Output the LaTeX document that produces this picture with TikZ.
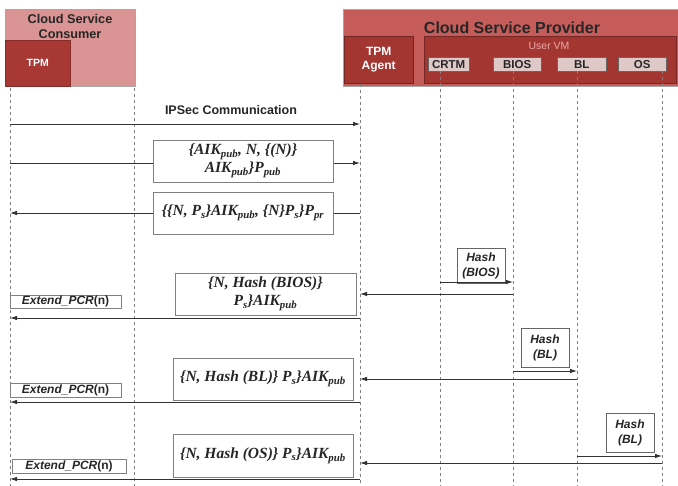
\documentclass[tikz,border=0pt]{standalone}
\usepackage{fontspec}
\setmainfont{Liberation Serif}
\setsansfont{Liberation Sans}
\usetikzlibrary{arrows.meta, positioning, calc}

\definecolor{consfill}{RGB}{218,148,147}
\definecolor{tpmfill}{RGB}{168,56,52}
\definecolor{provfill}{RGB}{198,92,90}
\definecolor{vmfill}{RGB}{164,54,50}
\definecolor{compfill}{RGB}{222,200,200}
\definecolor{vmtext}{RGB}{232,170,168}

\begin{document}
\begin{tikzpicture}[x=1pt, y=-1pt,
        hdr_box/.style={draw=gray!70, inner sep=0pt, anchor=north west},
        comp_box/.style={draw=black!60, fill=compfill, inner sep=0pt, anchor=north west, minimum height=14pt,
            font=\sffamily\bfseries\fontsize{11.5}{12}\selectfont, text=black!85},
        lifeline/.style={draw=gray, dashed, line width=0.7pt},
        msg/.style={draw=black!80, line width=0.8pt, -{Latex[length=7pt,width=4.5pt]}},
        msg_box/.style={draw=gray, fill=white, line width=0.9pt, inner sep=0pt, align=center,
            minimum width=180pt, minimum height=42pt,
            font=\bfseries\itshape\fontsize{15.5}{18}\selectfont, text=black!85},
        hash_box/.style={draw=gray!80!black, fill=white, line width=0.9pt, inner sep=0pt, align=center,
            minimum width=48pt, font=\sffamily\bfseries\itshape\fontsize{12}{15}\selectfont, text=black!85},
        pcr_box/.style={draw=gray, fill=white, line width=0.9pt, inner sep=0pt,
            minimum width=111pt, minimum height=13pt, font=\sffamily\bfseries\fontsize{12}{13}\selectfont, text=black!85}]

        \useasboundingbox (0,0) rectangle (678,486);

        % Consumer side
        \node[hdr_box, fill=consfill, minimum width=130pt, minimum height=77pt] (consumer) at (5,9) {};
        \node[font=\sffamily\bfseries\fontsize{12.7}{15}\selectfont, align=center, text=black!85]
            (consumer_title) at (70,26) {Cloud Service\\Consumer};
        \node[hdr_box, draw=tpmfill!80!black, fill=tpmfill, minimum width=65pt, minimum height=46pt] (tpm) at (5,40) {};
        \node[font=\sffamily\bfseries\fontsize{10.5}{12}\selectfont, text=white] (tpm_label) at (tpm.center) {TPM};

        % Provider side
        \node[hdr_box, fill=provfill, minimum width=340pt, minimum height=77pt] (provider) at (343,9) {};
        \node[font=\sffamily\bfseries\fontsize{16}{18}\selectfont, text=black!85] (provider_title) at (512,28) {Cloud Service Provider};
        \node[hdr_box, draw=vmfill!70!black, fill=vmfill, minimum width=69pt, minimum height=47pt] (agent) at (344,36) {};
        \node[font=\sffamily\bfseries\fontsize{12}{14}\selectfont, text=white, align=center] (agent_label) at (agent.center) {TPM\\Agent};
        \node[hdr_box, draw=vmfill!70!black, fill=vmfill, minimum width=252pt, minimum height=47pt] (vm) at (424,36) {};
        \node[font=\sffamily\fontsize{10.5}{12}\selectfont, text=vmtext] (vm_label) at (549,46) {User VM};
        \node[comp_box, minimum width=41pt] (crtm) at (428,57) {CRTM};
        \node[comp_box, minimum width=48pt] (bios) at (493,57) {BIOS};
        \node[comp_box, minimum width=49pt] (bl) at (557,57) {BL};
        \node[comp_box, minimum width=48pt] (os) at (618,57) {OS};

        % Lifelines
        \coordinate (bottom) at (0,486);
        \coordinate (tpm_top) at (10,88);
        \coordinate (cons_top) at (134,88);
        \coordinate (agent_top) at (360,84);
        \coordinate (crtm_top) at (440,71);
        \coordinate (bios_top) at (513,71);
        \coordinate (bl_top) at (577,71);
        \coordinate (os_top) at (662,71);
        \foreach \ll in {tpm, cons, agent, crtm, bios, bl, os}
            \draw[lifeline] (\ll_top) -- (\ll_top |- bottom);

        % Message rows
        \coordinate (m_ipsec) at (0,124);
        \coordinate (m_req) at (0,163);
        \coordinate (m_resp) at (0,213);
        \coordinate (m_hbios) at (0,282);
        \coordinate (m_bios) at (0,294);
        \coordinate (m_pcr1) at (0,318);
        \coordinate (m_hbl) at (0,371);
        \coordinate (m_bl) at (0,379);
        \coordinate (m_pcr2) at (0,402);
        \coordinate (m_hos) at (0,456);
        \coordinate (m_os) at (0,463);
        \coordinate (m_pcr3) at (0,479);

        % Attestation request / response
        \draw[msg] (tpm_top |- m_ipsec) -- (agent_top |- m_ipsec);
        \node[font=\sffamily\bfseries\fontsize{12.5}{14}\selectfont, text=black!85] (ipsec_label) at (231,110) {IPSec Communication};
        \draw[msg] (tpm_top |- m_req) -- (agent_top |- m_req);
        \node[msg_box] (req_box) at (243,161)
            {\{AIK\textsubscript{pub}, N, \{(N)\}\\AIK\textsubscript{pub}\}P\textsubscript{pub}};
        \draw[msg] (agent_top |- m_resp) -- (tpm_top |- m_resp);
        \node[msg_box] (resp_box) at (243,213)
            {\{\{N, P\textsubscript{s}\}AIK\textsubscript{pub}, \{N\}P\textsubscript{s}\}P\textsubscript{pr}};

        % BIOS measurement
        \node[hash_box, minimum height=35pt] (hash_bios) at (481,265.5) {Hash\\(BIOS)};
        \draw[msg] (crtm_top |- m_hbios) -- (bios_top |- m_hbios);
        \draw[msg] (bios_top |- m_bios) -- (agent_top |- m_bios);
        \node[msg_box, minimum width=181pt] (bios_box) at (265.5,294)
            {\{N, Hash (BIOS)\}\\P\textsubscript{s}\}AIK\textsubscript{pub}};
        \node[pcr_box] (pcr1) at (65.5,301.5) {\textit{Extend\_PCR}(n)};
        \draw[msg] (agent_top |- m_pcr1) -- (tpm_top |- m_pcr1);

        % BL measurement
        \node[hash_box, minimum height=39pt] (hash_bl) at (545,347.5) {Hash\\(BL)};
        \draw[msg] (bios_top |- m_hbl) -- (bl_top |- m_hbl);
        \draw[msg] (bl_top |- m_bl) -- (agent_top |- m_bl);
        \node[msg_box] (bl_box) at (263,379)
            {\{N, Hash (BL)\} P\textsubscript{s}\}AIK\textsubscript{pub}};
        \node[pcr_box, minimum height=14pt] (pcr2) at (65.5,390) {\textit{Extend\_PCR}(n)};
        \draw[msg] (agent_top |- m_pcr2) -- (tpm_top |- m_pcr2);

        % OS measurement
        \node[hash_box, minimum height=39pt] (hash_os) at (630,432.5) {Hash\\(BL)};
        \draw[msg] (bl_top |- m_hos) -- (os_top |- m_hos);
        \draw[msg] (os_top |- m_os) -- (agent_top |- m_os);
        \node[msg_box, minimum height=43pt] (os_box) at (263,455.5)
            {\{N, Hash (OS)\} P\textsubscript{s}\}AIK\textsubscript{pub}};
        \node[pcr_box, minimum width=114pt, minimum height=14pt] (pcr3) at (69,466) {\textit{Extend\_PCR}(n)};
        \draw[msg] (agent_top |- m_pcr3) -- (tpm_top |- m_pcr3);
    \end{tikzpicture}
\end{document}
